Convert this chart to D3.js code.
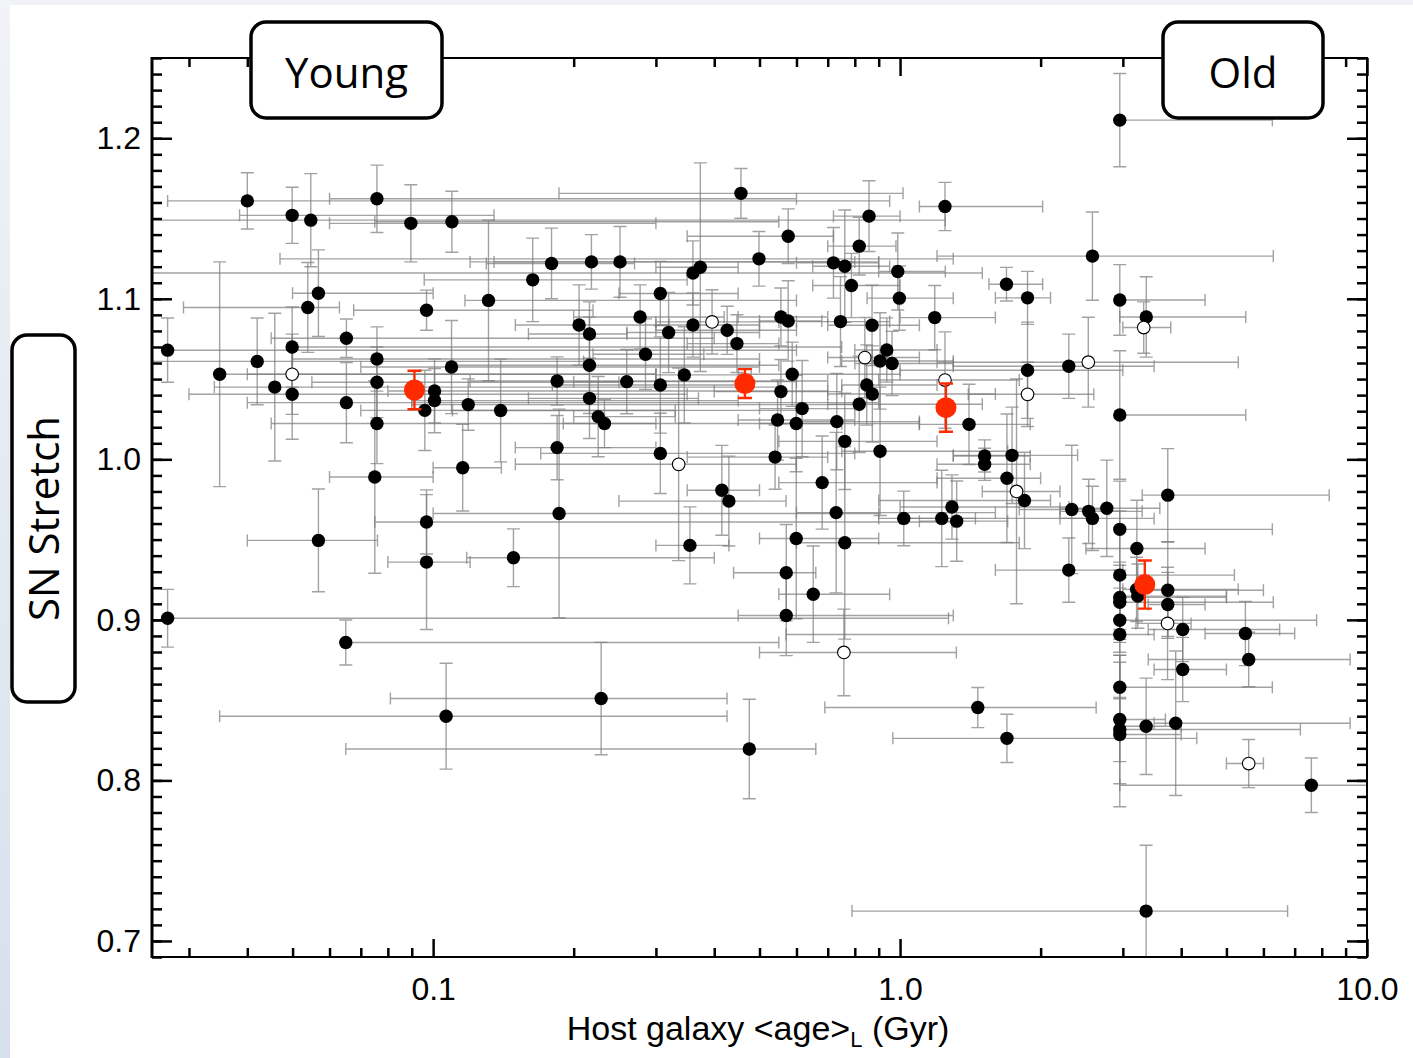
<!DOCTYPE html>
<html>
<head>
<meta charset="utf-8">
<script src="https://cdn.jsdelivr.net/npm/d3@7"></script>
<style>
  body { margin: 0; background: #fff; }
  svg text { font-family: "Liberation Sans", Arial, Helvetica, sans-serif; fill: #000; }
  .box text { font-family: "Open Sans", "Noto Sans", sans-serif; }
</style>
</head>
<body>
<svg id="chart" width="1413" height="1058"></svg>
<script>
// each row: [age (Gyr), stretch, stretch error, age low, age high]
var hostsFilled = [
  [0.027,1.068,0.020,0.027,0.60],
  [0.027,0.901,0.018,0.027,1.27],
  [0.0349,1.053,0.070,0.0349,0.30],
  [0.040,1.161,0.0175,0.027,0.95],
  [0.042,1.061,0.027,0.025,0.21],
  [0.0458,1.045,0.046,0.034,0.55],
  [0.0499,1.152,0.0175,0.0385,0.135],
  [0.0499,1.070,0.025,0.0499,0.75],
  [0.0499,1.0405,0.028,0.030,0.35],
  [0.0539,1.0946,0.028,0.0292,0.063],
  [0.0547,1.149,0.029,0.025,1.25],
  [0.0568,1.1035,0.027,0.050,0.10],
  [0.0568,0.9495,0.032,0.040,0.076],
  [0.0652,1.0754,0.012,0.045,0.40],
  [0.0652,1.0353,0.025,0.040,0.90],
  [0.0650,0.8859,0.014,0.065,0.55],
  [0.0758,1.1623,0.021,0.060,0.60],
  [0.0758,1.0625,0.020,0.050,0.50],
  [0.0758,1.048,0.022,0.055,0.25],
  [0.0758,1.0223,0.025,0.045,1.10],
  [0.075,0.989,0.060,0.060,0.10],
  [0.0896,1.147,0.024,0.060,0.30],
  [0.0968,1.0929,0.0125,0.0676,0.22],
  [0.096,1.0305,0.025,0.070,0.60],
  [0.0968,0.961,0.020,0.075,1.30],
  [0.0968,0.936,0.042,0.080,0.12],
  [0.1007,1.0426,0.020,0.080,0.70],
  [0.1007,1.0366,0.020,0.090,0.45],
  [0.1066,0.840,0.033,0.0349,0.426],
  [0.1097,1.148,0.019,0.075,0.55],
  [0.1095,1.0575,0.029,0.070,0.50],
  [0.1157,0.9948,0.027,0.100,0.14],
  [0.1189,1.0341,0.016,0.090,0.80],
  [0.1314,1.099,0.050,0.117,0.60],
  [0.1395,1.0304,0.032,0.110,0.33],
  [0.1486,0.9387,0.018,0.118,0.40],
  [0.1634,1.1118,0.026,0.0957,0.35],
  [0.1793,1.122,0.022,0.130,0.27],
  [0.1843,1.0488,0.015,0.120,0.70],
  [0.1843,1.0073,0.020,0.150,0.30],
  [0.1861,0.9663,0.065,0.100,0.90],
  [0.2054,1.0837,0.025,0.150,0.32],
  [0.2162,1.0781,0.020,0.160,0.26],
  [0.2162,1.0586,0.030,0.110,0.55],
  [0.2162,1.038,0.025,0.160,0.37],
  [0.2183,1.123,0.017,0.120,0.90],
  [0.2257,1.0266,0.025,0.200,0.33],
  [0.2328,1.0223,0.015,0.190,0.30],
  [0.229,0.851,0.035,0.081,0.426],
  [0.2513,1.123,0.022,0.135,0.80],
  [0.2598,1.0484,0.020,0.200,0.60],
  [0.2775,1.0887,0.020,0.200,0.42],
  [0.285,1.0655,0.022,0.220,0.38],
  [0.3066,1.1033,0.020,0.250,0.45],
  [0.3066,1.0463,0.030,0.180,0.45],
  [0.3066,1.0037,0.025,0.170,0.80],
  [0.3194,1.079,0.025,0.260,0.50],
  [0.3451,1.0526,0.030,0.300,0.48],
  [0.3548,0.9464,0.024,0.300,0.43],
  [0.3601,1.1161,0.020,0.025,1.50],
  [0.3601,1.0837,0.020,0.300,0.50],
  [0.3734,1.1197,0.065,0.300,0.45],
  [0.4153,0.9807,0.028,0.350,0.50],
  [0.4299,0.974,0.028,0.250,0.57],
  [0.4263,1.0804,0.015,0.300,0.60],
  [0.4473,1.0721,0.018,0.350,0.55],
  [0.4563,1.1657,0.0155,0.186,1.015],
  [0.4755,0.8196,0.031,0.065,0.66],
  [0.4987,1.1249,0.017,0.047,1.30],
  [0.540,1.0014,0.020,0.350,0.70],
  [0.5466,1.0245,0.025,0.450,0.80],
  [0.5557,1.0422,0.020,0.400,0.75],
  [0.5557,1.0887,0.018,0.450,0.70],
  [0.5705,0.9294,0.030,0.440,0.66],
  [0.5705,0.9027,0.025,0.450,1.30],
  [0.576,1.139,0.017,0.350,0.72],
  [0.576,1.0862,0.025,0.500,0.68],
  [0.5875,1.053,0.020,0.450,1.00],
  [0.5993,1.0223,0.030,0.500,0.75],
  [0.5993,0.9507,0.050,0.500,0.90],
  [0.617,1.0316,0.030,0.500,0.80],
  [0.6517,0.916,0.030,0.550,0.95],
  [0.681,0.9855,0.029,0.550,1.20],
  [0.720,1.1224,0.022,0.600,0.90],
  [0.732,1.0235,0.030,0.600,1.10],
  [0.7296,0.9668,0.050,0.600,1.60],
  [0.7454,1.0858,0.028,0.600,0.95],
  [0.7614,1.0112,0.030,0.550,1.20],
  [0.7614,0.948,0.060,0.600,1.80],
  [0.7614,1.1203,0.035,0.650,0.95],
  [0.7868,1.1083,0.020,0.650,1.00],
  [0.8176,1.1328,0.018,0.700,0.98],
  [0.8176,1.0343,0.030,0.700,1.50],
  [0.8485,1.0463,0.025,0.750,1.20],
  [0.8581,1.1515,0.022,0.720,1.00],
  [0.8722,1.0407,0.030,0.700,1.60],
  [0.8709,1.0835,0.025,0.700,1.10],
  [0.906,1.005,0.040,0.750,1.70],
  [0.906,1.0613,0.030,0.750,1.30],
  [0.9366,1.0681,0.020,0.800,1.20],
  [0.9614,1.0597,0.020,0.800,1.30],
  [0.9887,1.117,0.024,0.900,1.25],
  [0.9966,1.1004,0.020,0.850,1.30],
  [1.0184,0.9632,0.017,0.900,1.45],
  [1.1865,1.0883,0.020,1.000,1.60],
  [1.2282,0.9632,0.030,1.000,2.60],
  [1.248,1.1575,0.015,1.100,2.02],
  [1.2916,0.9703,0.020,1.000,2.30],
  [1.322,0.9615,0.025,1.100,1.70],
  [1.405,1.0218,0.025,1.100,1.90],
  [1.467,0.8454,0.0125,0.690,2.63],
  [1.5175,1.0021,0.010,1.300,1.90],
  [1.5175,0.9969,0.010,1.200,1.90],
  [1.690,1.1091,0.0105,1.550,2.02],
  [1.694,0.9882,0.040,1.200,2.00],
  [1.694,0.8262,0.015,0.965,4.32],
  [1.737,1.0025,0.030,1.300,2.40],
  [1.847,0.9744,0.030,0.900,2.10],
  [1.875,1.1006,0.0165,1.600,2.10],
  [1.875,1.0555,0.030,1.000,3.00],
  [2.298,1.058,0.020,1.300,3.50],
  [2.332,0.9688,0.040,1.800,2.80],
  [2.298,0.931,0.020,1.600,3.00],
  [2.535,0.9676,0.020,2.200,3.30],
  [2.582,0.9632,0.020,2.200,3.50],
  [2.582,1.1266,0.0275,1.200,6.30],
  [2.772,0.9695,0.030,2.200,3.60],
  [2.955,1.2113,0.029,2.955,6.27],
  [2.955,1.0993,0.022,2.955,4.50],
  [2.955,1.0276,0.040,2.955,5.50],
  [2.955,0.9564,0.030,2.955,6.27],
  [2.955,0.9279,0.040,2.955,5.20],
  [2.955,0.914,0.020,2.955,5.00],
  [2.955,0.911,0.025,2.955,6.30],
  [2.955,0.8998,0.020,2.955,7.80],
  [2.955,0.8909,0.040,0.570,3.50],
  [2.955,0.858,0.020,2.955,6.27],
  [2.955,0.8379,0.040,2.955,3.70],
  [2.955,0.8317,0.020,2.955,7.20],
  [2.955,0.8286,0.045,2.955,4.00],
  [3.215,0.9445,0.030,2.500,4.50],
  [3.210,0.919,0.020,3.000,5.30],
  [3.230,0.9148,0.020,3.000,5.00],
  [3.367,1.0887,0.025,2.955,5.50],
  [3.365,0.8337,0.030,3.000,4.00],
  [3.365,0.7186,0.041,0.789,6.76],
  [3.744,0.9777,0.029,3.300,8.30],
  [3.744,0.9185,0.030,3.300,6.00],
  [3.744,0.9096,0.020,3.400,4.50],
  [3.893,0.8356,0.045,3.500,9.20],
  [4.03,0.894,0.020,3.400,6.50],
  [4.03,0.8691,0.020,3.500,5.00],
  [5.49,0.8915,0.020,4.500,7.00],
  [5.58,0.8753,0.017,3.400,9.20],
  [7.60,0.797,0.017,2.955,10.0]
];

// hosts drawn as open circles, same columns
var hostsOpen = [
  [0.0499,1.053,0.025,0.040,0.30],
  [0.3356,0.9969,0.060,0.150,0.60],
  [0.3957,1.0856,0.020,0.300,0.55],
  [0.758,0.8797,0.027,0.500,1.32],
  [0.8405,1.0634,0.025,0.700,1.10],
  [1.248,1.0494,0.030,0.900,1.80],
  [1.776,0.980,0.070,1.500,2.20],
  [1.875,1.0405,0.020,1.400,2.60],
  [2.53,1.0605,0.028,1.200,5.30],
  [3.325,1.0821,0.016,3.000,3.80],
  [3.74,0.8978,0.035,3.200,4.20],
  [5.58,0.8105,0.015,5.000,6.00]
];

// binned means
var binAge = [0.0912, 0.4653, 1.254, 3.343];
var binStretch = [1.0432, 1.0472, 1.0322, 0.922];
var binErr = [0.012, 0.009, 0.015, 0.015];

var xMajor = [0.1, 1, 10];
var xMajorLabels = ["0.1", "1.0", "10.0"];
var xMinor = [0.03,0.04,0.05,0.06,0.07,0.08,0.09,0.2,0.3,0.4,0.5,0.6,0.7,0.8,0.9,2,3,4,5,6,7,8,9];
var yMajor = [0.7, 0.8, 0.9, 1.0, 1.1, 1.2];
var yMinor = d3.range(69, 126).map(function(v) { return v / 100; });

var L = 152, R = 1367, T = 58, B = 957;

var svg = d3.select("#chart");

// slide edge behind the figure
var defs = svg.append("defs");
var grad = defs.append("linearGradient").attr("id", "edge").attr("x1", 0).attr("y1", 0).attr("x2", 0).attr("y2", 1);
grad.append("stop").attr("offset", "0%").attr("stop-color", "#f1f3f6");
grad.append("stop").attr("offset", "100%").attr("stop-color", "#d6e0ec");
svg.append("rect").attr("width", 1413).attr("height", 1058).attr("fill", "#f0f2f5");
svg.append("rect").attr("x", 0).attr("y", 0).attr("width", 10).attr("height", 1058).attr("fill", "url(#edge)");
svg.append("rect").attr("x", 10).attr("y", 5).attr("width", 1403).attr("height", 1053).attr("fill", "#fff");

defs.append("clipPath").attr("id", "plotclip")
  .append("rect").attr("x", L).attr("y", T).attr("width", R - L).attr("height", B - T);

var x = d3.scaleLog().domain([0.025, 10]).range([L, R]);
var y = d3.scaleLinear().domain([0.69, 1.25]).range([B, T]);

// error bars
var allHosts = hostsFilled.concat(hostsOpen);
var eb = svg.append("g").attr("clip-path", "url(#plotclip)")
  .attr("stroke", "#7a7a7a").attr("stroke-opacity", 0.7).attr("stroke-width", 1.4).attr("fill", "none");

var capV = 6.5, capH = 6;
allHosts.forEach(function(d) {
  var cx = x(d[0]), cy = y(d[1]);
  var y0 = y(d[1] - d[2]), y1 = y(d[1] + d[2]);
  var x0 = x(d[3]), x1 = x(d[4]);
  var p = d3.path();
  p.moveTo(cx, y0); p.lineTo(cx, y1);
  p.moveTo(cx - capV, y0); p.lineTo(cx + capV, y0);
  p.moveTo(cx - capV, y1); p.lineTo(cx + capV, y1);
  p.moveTo(x0, cy); p.lineTo(x1, cy);
  p.moveTo(x0, cy - capH); p.lineTo(x0, cy + capH);
  p.moveTo(x1, cy - capH); p.lineTo(x1, cy + capH);
  eb.append("path").attr("d", p.toString());
});

// host points
svg.append("g").selectAll("circle").data(hostsFilled).enter().append("circle")
  .attr("cx", function(d) { return x(d[0]); })
  .attr("cy", function(d) { return y(d[1]); })
  .attr("r", 6.7)
  .attr("fill", "#000");

svg.append("g").selectAll("circle").data(hostsOpen).enter().append("circle")
  .attr("cx", function(d) { return x(d[0]); })
  .attr("cy", function(d) { return y(d[1]); })
  .attr("r", 6.3)
  .attr("fill", "#fff")
  .attr("stroke", "#000")
  .attr("stroke-width", 1.1);

// binned means in red
var bins = binAge.map(function(a, i) { return { age: a, s: binStretch[i], e: binErr[i] }; });
var red = "#ff2a00";
var rb = svg.append("g").attr("stroke", red).attr("stroke-width", 2.4).attr("fill", "none");
bins.forEach(function(d) {
  var cx = x(d.age), y0 = y(d.s - d.e), y1 = y(d.s + d.e);
  var p = d3.path();
  p.moveTo(cx, y0); p.lineTo(cx, y1);
  p.moveTo(cx - 7, y0); p.lineTo(cx + 7, y0);
  p.moveTo(cx - 7, y1); p.lineTo(cx + 7, y1);
  rb.append("path").attr("d", p.toString());
});
svg.append("g").selectAll("circle").data(bins).enter().append("circle")
  .attr("cx", function(d) { return x(d.age); })
  .attr("cy", function(d) { return y(d.s); })
  .attr("r", 10.5)
  .attr("fill", red);

// axes: inward ticks on all four sides
function styleAxis(g, w) {
  g.select(".domain").remove();
  g.selectAll(".tick line").attr("stroke", "#000").attr("stroke-width", w);
  g.selectAll(".tick text").attr("font-size", 32).attr("fill", "#000")
    .attr("font-family", "'Liberation Sans', Arial, sans-serif");
}

svg.append("g").attr("transform", "translate(0," + B + ")")
  .call(d3.axisBottom(x).tickValues(xMajor).tickSize(-18).tickPadding(20)
    .tickFormat(function(d, i) { return xMajorLabels[i]; }))
  .call(styleAxis, 2.5);
svg.append("g").attr("transform", "translate(0," + B + ")")
  .call(d3.axisBottom(x).tickValues(xMinor).tickSize(-9).tickFormat(""))
  .call(styleAxis, 2.5);
svg.append("g").attr("transform", "translate(0," + T + ")")
  .call(d3.axisTop(x).tickValues(xMajor).tickSize(-18).tickFormat(""))
  .call(styleAxis, 2.5);
svg.append("g").attr("transform", "translate(0," + T + ")")
  .call(d3.axisTop(x).tickValues(xMinor).tickSize(-9).tickFormat(""))
  .call(styleAxis, 2.5);

svg.append("g").attr("transform", "translate(" + L + ",0)")
  .call(d3.axisLeft(y).tickValues(yMajor).tickSize(-20).tickPadding(11).tickFormat(d3.format(".1f")))
  .call(styleAxis, 2.5);
svg.append("g").attr("transform", "translate(" + L + ",0)")
  .call(d3.axisLeft(y).tickValues(yMinor).tickSize(-10).tickFormat(""))
  .call(styleAxis, 2.5);
svg.append("g").attr("transform", "translate(" + R + ",0)")
  .call(d3.axisRight(y).tickValues(yMajor).tickSize(-20).tickFormat(""))
  .call(styleAxis, 2.5);
svg.append("g").attr("transform", "translate(" + R + ",0)")
  .call(d3.axisRight(y).tickValues(yMinor).tickSize(-10).tickFormat(""))
  .call(styleAxis, 2.5);

// frame
svg.append("line").attr("x1", L).attr("x2", L).attr("y1", T - 1).attr("y2", B + 1).attr("stroke", "#000").attr("stroke-width", 3);
svg.append("line").attr("x1", R).attr("x2", R).attr("y1", T - 1).attr("y2", B + 1).attr("stroke", "#000").attr("stroke-width", 2);
svg.append("line").attr("x1", L).attr("x2", R).attr("y1", T).attr("y2", T).attr("stroke", "#000").attr("stroke-width", 2);
svg.append("line").attr("x1", L).attr("x2", R).attr("y1", B).attr("y2", B).attr("stroke", "#000").attr("stroke-width", 2);

// x title with subscript
var xt = svg.append("text").attr("x", 758).attr("y", 1040).attr("text-anchor", "middle").attr("font-size", 34);
xt.append("tspan").text("Host galaxy <age>");
xt.append("tspan").attr("font-size", 22).attr("dy", 7).text("L");
xt.append("tspan").attr("dy", -7).text(" (Gyr)");

// labelled boxes
function labelBox(bx, by, bw, bh, label, vertical) {
  var g = svg.append("g").attr("class", "box");
  g.append("rect").attr("x", bx).attr("y", by).attr("width", bw).attr("height", bh)
    .attr("rx", 15).attr("ry", 15)
    .attr("fill", "#fff").attr("stroke", "#000").attr("stroke-width", 3.5);
  var cx = bx + bw / 2, cy = by + bh / 2;
  g.append("text")
    .attr("transform", "translate(" + cx + "," + cy + ")" + (vertical ? " rotate(-90)" : ""))
    .attr("text-anchor", "middle").attr("dy", vertical ? "0.36em" : "0.44em")
    .attr("font-size", 42)
    .text(label);
}
labelBox(251, 22, 191, 96, "Young", false);
labelBox(1163, 22, 160, 96, "Old", false);
labelBox(12, 335, 63, 367, "SN Stretch", true);
</script>
</body>
</html>
